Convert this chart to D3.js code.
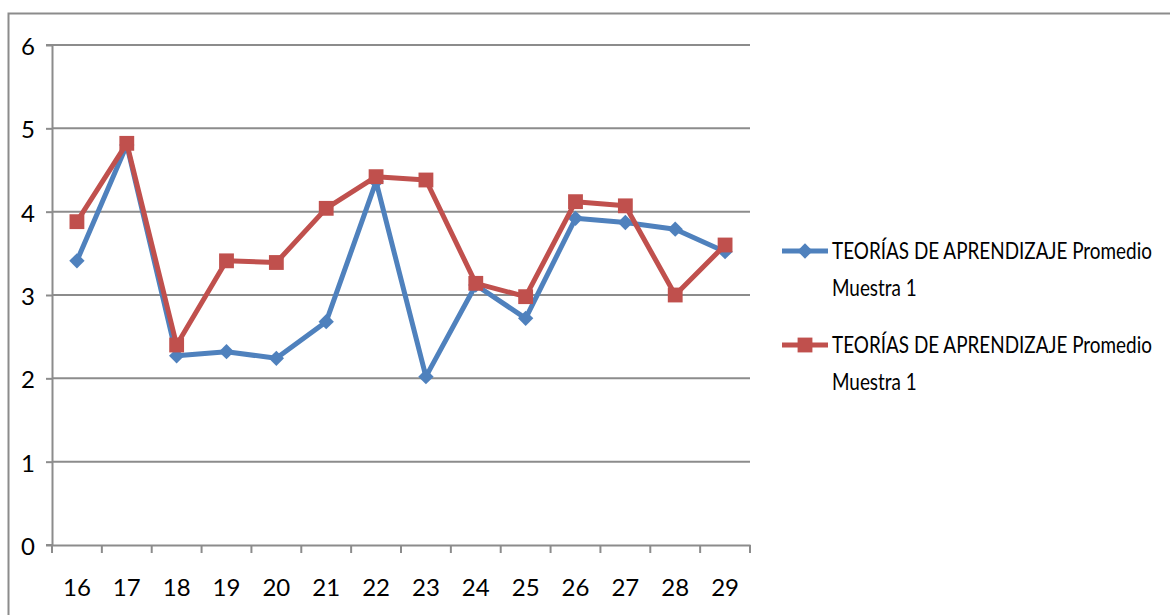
<!DOCTYPE html>
<html>
<head>
<meta charset="utf-8">
<script src="https://cdn.jsdelivr.net/npm/d3@7"></script>
<style>
  body { margin: 0; background: #fff; }
  #chart { width: 1170px; height: 615px; }
  text { font-family: Lato, "Open Sans", sans-serif; fill: #000; }
</style>
</head>
<body>
<div id="chart"></div>
<script>
// Dati
const categories = ['16', '17', '18', '19', '20', '21', '22', '23', '24', '25', '26', '27', '28', '29'];
const serieBlu = [3.41, 4.8, 2.27, 2.32, 2.24, 2.68, 4.36, 2.02, 3.12, 2.72, 3.92, 3.87, 3.79, 3.52];
const serieRossa = [3.88, 4.82, 2.4, 3.41, 3.39, 4.04, 4.42, 4.38, 3.14, 2.98, 4.12, 4.07, 3.0, 3.6];
const yTicks = [0, 1, 2, 3, 4, 5, 6];
const legendLabels = ['TEORÍAS DE APRENDIZAJE Promedio', 'Muestra 1'];

const series = [
    { name: 'blu', values: serieBlu, color: '#4F81BD', marker: 'diamond' },
    { name: 'rossa', values: serieRossa, color: '#C0504D', marker: 'square' }
];

const svg = d3.select('#chart').append('svg')
    .attr('width', 1170)
    .attr('height', 615);

// Bordo esterno
svg.append('path')
    .attr('d', 'M8.5,615 V13.5 H1170')
    .attr('fill', 'none')
    .attr('stroke', '#8c8c8c')
    .attr('stroke-width', 2);

const margin = { top: 45, left: 52 };
const width = 698;
const height = 500;

const g = svg.append('g')
    .attr('transform', `translate(${margin.left},${margin.top})`);

const xScale = d3.scaleBand()
    .domain(categories)
    .range([0, width]);

const yScale = d3.scaleLinear()
    .domain([0, 6])
    .range([height, 0]);

// Griglia
g.selectAll('.grid')
    .data(yTicks.filter(d => d > 0))
    .enter().append('line')
    .attr('x1', 0)
    .attr('x2', width)
    .attr('y1', d => yScale(d))
    .attr('y2', d => yScale(d))
    .attr('stroke', '#8c8c8c')
    .attr('stroke-width', 2);

// Asse Y
const yAxis = g.append('g')
    .call(d3.axisLeft(yScale).tickValues(yTicks).tickFormat(d3.format('d')).tickSize(6).tickPadding(11));
yAxis.select('.domain').attr('stroke', '#8c8c8c').attr('stroke-width', 2).attr('d', `M-6,0H0.5V${height}H-6`);
yAxis.selectAll('.tick line').attr('stroke', '#8c8c8c').attr('stroke-width', 2);
yAxis.selectAll('.tick text')
    .style('font-size', '24px')
    .attr('dy', '0.4em');

// Asse X
const xAxis = g.append('g')
    .attr('transform', `translate(0,${height})`)
    .call(d3.axisBottom(xScale).tickSize(0).tickPadding(34));
xAxis.select('.domain').attr('stroke', '#8c8c8c').attr('stroke-width', 2);
xAxis.selectAll('.tick text').style('font-size', '24px');

// Tacche sui confini delle categorie
const bounds = categories.map(c => xScale(c)).concat([width]);
xAxis.selectAll('.bound')
    .data(bounds)
    .enter().append('line')
    .attr('x1', d => d)
    .attr('x2', d => d)
    .attr('y1', 0)
    .attr('y2', 8)
    .attr('stroke', '#8c8c8c')
    .attr('stroke-width', 2);

const cx = c => xScale(c) + xScale.bandwidth() / 2;

const line = d3.line()
    .x((d, i) => cx(categories[i]))
    .y(d => yScale(d));

const diamond = d3.symbol().type(d3.symbolDiamond2).size(150);
const square = d3.symbol().type(d3.symbolSquare).size(220);

series.forEach(s => {
    g.append('path')
        .datum(s.values)
        .attr('fill', 'none')
        .attr('stroke', s.color)
        .attr('stroke-width', 5)
        .attr('stroke-linejoin', 'round')
        .attr('d', line);

    g.selectAll('.m-' + s.name)
        .data(s.values)
        .enter().append('path')
        .attr('transform', (d, i) => `translate(${cx(categories[i])},${yScale(d)})`)
        .attr('d', s.marker === 'diamond' ? diamond : square)
        .attr('fill', s.color);
});

// Legenda
const legend = svg.append('g')
    .attr('transform', 'translate(782, 251)');

series.forEach((s, i) => {
    const row = legend.append('g')
        .attr('transform', `translate(0, ${i * 94})`);

    row.append('line')
        .attr('x1', 0)
        .attr('x2', 46)
        .attr('stroke', s.color)
        .attr('stroke-width', 5);

    row.append('path')
        .attr('transform', 'translate(23,0)')
        .attr('d', s.marker === 'diamond' ? diamond : square)
        .attr('fill', s.color);

    legendLabels.forEach((t, j) => {
        row.append('g')
            .attr('transform', `translate(50, ${j * 37}) scale(1,1.26)`)
            .append('text')
            .attr('dy', '0.35em')
            .style('font-size', '18.9px')
            .text(t);
    });
});
</script>
</body>
</html>
